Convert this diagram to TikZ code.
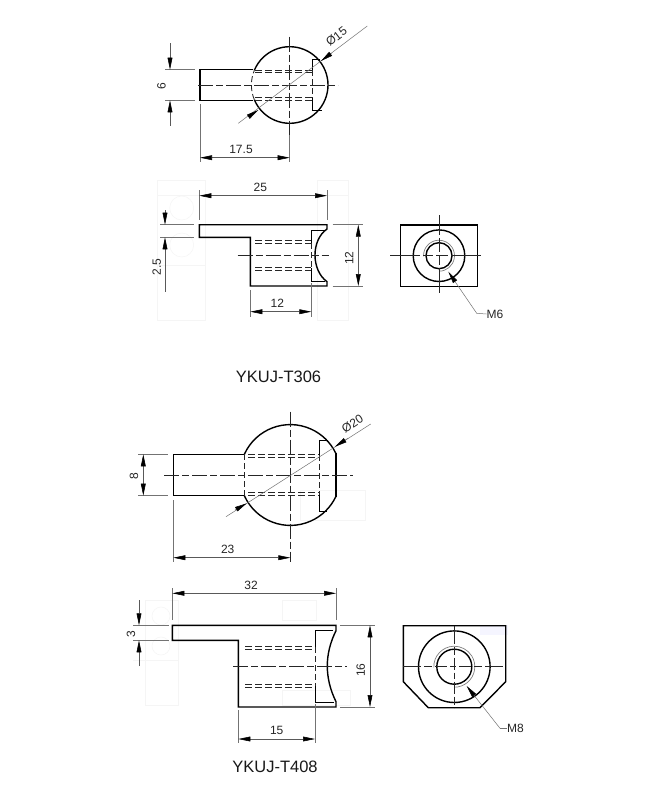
\documentclass[tikz,border=0pt]{standalone}
\usepackage{fontspec}
\setmainfont{Liberation Sans}
\usetikzlibrary{arrows.meta}
\tikzset{
  obj/.style={line width=1.4pt,black,line join=miter},
  thin obj/.style={line width=1pt,black},
  hole/.style={line width=0.85pt,black!85,dash pattern=on 6.5pt off 3.5pt},
  hidden/.style={line width=0.85pt,black!85,dash pattern=on 6pt off 3pt},
  axis/.style={line width=0.85pt,black!85,dash pattern=on 15pt off 3pt on 7pt off 3pt},
  ext/.style={line width=0.5pt,black!55},
  dimline/.style={line width=0.55pt,black!65},
  tip/.style={-{Triangle[length=12pt,width=4.8pt,fill=black,color=black]}},
  tips/.style={{Triangle[length=12pt,width=4.8pt,fill=black,color=black]}-{Triangle[length=12pt,width=4.8pt,fill=black,color=black]}},
  thread/.style={line width=0.7pt,black!50},
  ghost/.style={line width=0.5pt,black!4},
  dimtext/.style={font=\fontsize{12}{14}\selectfont,text=black!85,inner sep=0pt},
  title/.style={font=\fontsize{16.5}{19}\selectfont,text=black!90,inner sep=0pt},
}
\begin{document}
\begin{tikzpicture}[x=1pt,y=1pt,yscale=-1]
\useasboundingbox (0,0) rectangle (650,800);
\fill[white] (0,0) rectangle (650,800);

% faint ghosts
\draw[ghost] (157,180) rectangle (205,320) (157,265) -- (205,265) (157,195) -- (205,195);
\draw[ghost] (181.7,208) circle[radius=12] (181.7,245) circle[radius=12];
\draw[ghost] (317,180) rectangle (348,320) (317,195) -- (348,195);
\draw[ghost] (145,600) rectangle (178,705) (133,660) -- (178,660);
\draw[ghost] (161,616) circle[radius=9] (161,646) circle[radius=9];
\draw[ghost] (282,600) rectangle (316,620) (282,690) rectangle (350,705);
\draw[ghost] (300,490) rectangle (365,520);
\fill[blue!4] (480,625) rectangle (508,635);

% ===== YKUJ-T306 top view =====
\coordinate (c1) at (289.7,85);
\draw[obj] (c1) ++(-157.4:38.3) arc[start angle=-157.4,end angle=157.4,radius=38.3];
\draw[hidden] (c1) ++(157.4:38.3) arc[start angle=157.4,end angle=202.6,radius=38.3];
\draw[obj] (253,69.7) -- (200,69.7) -- (200,100.3) -- (253,100.3);
\draw[hole] (255,70) -- (312.3,70) (255,72.5) -- (312.3,72.5) (255,97.5) -- (312.3,97.5) (255,100) -- (312.3,100);
\draw[thin obj] (320,59.3) -- (312.3,59.3) -- (312.3,70) (312.3,98) -- (312.3,110.7) -- (321.7,110.7);
\draw[hidden] (312.3,70) -- (312.3,98);
\draw[axis] (198,85) -- (338,85);
\draw[axis] (289.7,36.7) -- (289.7,135);
\draw[ext] (238.3,123.3) -- (367.3,26);
\draw[tip,ext] (331.7,53) -- (321,61);
\draw[tip,ext] (248,117) -- (258.3,110);
\node[dimtext,rotate=37] (d15) at (336.5,36.5) {Ø15};
\draw[ext] (165,69.7) -- (195,69.7) (165,100.3) -- (195,100.3);
\draw[dimline,tip] (170,43.3) -- (170,69.7);
\draw[dimline,tip] (170,125.7) -- (170,100.3);
\node[dimtext,rotate=90] (d6) at (161.5,86) {6};
\draw[ext] (200,104) -- (200,161.7) (289.7,135) -- (289.7,161.7);
\draw[dimline,tips] (200,157.7) -- (289.7,157.7);
\node[dimtext] (d175) at (241,149.3) {17.5};

% ===== YKUJ-T306 front view =====
\draw[obj] (199.3,224.7) -- (327,224.7) -- (327,229)
  .. controls (311,240) and (311,270) .. (327,281.7) -- (327,286) -- (250.3,286) -- (250.3,237.3) -- (199.3,237.3) -- cycle;
\draw[thin obj] (325,230) -- (311.3,230) -- (311.3,243) (311.3,268) -- (311.3,281.7) -- (325,281.7);
\draw[hidden] (311.3,243) -- (311.3,268);
\draw[hole] (255,240) -- (311.3,240) (255,243.3) -- (311.3,243.3) (255,267.3) -- (311.3,267.3) (255,270.7) -- (311.3,270.7);
\draw[axis] (237.7,255) -- (329.3,255);
\draw[ext] (199.3,190) -- (199.3,220) (327,190) -- (327,220);
\draw[dimline,tips] (199.3,195.7) -- (327,195.7);
\node[dimtext] (d25) at (260.3,187.7) {25};
\draw[ext] (160,224.7) -- (194.3,224.7) (160,237.3) -- (194.3,237.3);
\draw[dimline,tip] (165,210) -- (165,224.7);
\draw[dimline,tip] (165,291.7) -- (165,237.3);
\node[dimtext,rotate=90] (d25b) at (156.7,266.7) {2.5};
\draw[ext] (332.7,224.7) -- (363.3,224.7) (332.7,286) -- (363.3,286);
\draw[dimline,tips] (358.3,224.7) -- (358.3,286);
\node[dimtext,rotate=90] (d12r) at (349.3,258.3) {12};
\draw[ext] (250.3,290) -- (250.3,316.7) (311.3,283) -- (311.3,316.7);
\draw[dimline,tips] (250.3,311.7) -- (311.3,311.7);
\node[dimtext] (d12b) at (277.3,303.7) {12};

% ===== YKUJ-T306 end view =====
\coordinate (e1) at (439,255.7);
\draw[obj] (400.7,225) rectangle (477.3,286.7);
\draw[obj] (e1) circle[radius=25.8];
\draw[obj] (e1) circle[radius=13];
\draw[thread] (e1) ++(178:15.5) arc[start angle=178,end angle=370,radius=15.5];
\draw[thread] (e1) ++(10:15.5) arc[start angle=10,end angle=90,radius=15.5];
\draw[line width=0.8pt,black!85,dash pattern=on 30pt off 3pt on 10pt off 3pt on 12pt off 3pt on 30pt] (390,255.7) -- (490,255.7);
\draw[line width=0.8pt,black!85,dash pattern=on 20pt off 3pt on 14pt off 3pt on 10pt off 3pt on 25pt] (439,215) -- (439,296.7);
\coordinate (l1a) at (476.7,313.3);
\node[dimtext,anchor=west] (m6) at (486.5,314) {M6};
\draw[ext,tip] (l1a) -- (448.3,271.7);
\draw[ext] (l1a) -- (m6.west);

\node[title] (t306) at (278.5,376.5) {YKUJ-T306};

% ===== YKUJ-T408 top view =====
\coordinate (c2) at (290.3,475);
\draw[obj] (244.3,454.3) -- (173.3,454.3) -- (173.3,495.7) -- (244.3,495.7);
\draw[obj] (c2) ++(-155.8:50.4) arc[start angle=-155.8,end angle=-25.4,radius=50.4];
\draw[obj] (c2) ++(155.8:50.4) arc[start angle=155.8,end angle=25.4,radius=50.4];
\draw[obj] (336,453.4) -- (336,496.6);
\draw[hidden] (244.3,454.3) -- (244.3,495.7);
\draw[hole] (248.3,454.3) -- (319,454.3) (248.3,457.3) -- (319,457.3) (248.3,492.5) -- (319,492.5) (248.3,495.7) -- (319,495.7);
\draw[thin obj] (328.3,440) -- (319,440) -- (319,455) (319,495) -- (319,511) -- (326.7,511);
\draw[hidden] (319,455) -- (319,495);
\draw[axis] (164.3,475) -- (353.3,475);
\draw[axis] (290.3,411.7) -- (290.3,562);
\draw[ext] (226,516.7) -- (370.7,424);
\draw[ext,tip] (348.3,438) -- (335,446.7);
\draw[ext,tip] (235,510) -- (246.7,503.3);
\node[dimtext,rotate=33] (d20) at (352.5,423.5) {Ø20};
\draw[ext] (138.3,454.3) -- (168.3,454.3) (138.3,495.7) -- (168.3,495.7);
\draw[dimline,tips] (143.3,454.3) -- (143.3,495.7);
\node[dimtext,rotate=90] (d8) at (134,476) {8};
\draw[ext] (173.3,500) -- (173.3,561.7);
\draw[dimline,tips] (173.3,557.7) -- (290.3,557.7);
\node[dimtext] (d23) at (227.7,549.3) {23};

% ===== YKUJ-T408 front view =====
\draw[obj] (172.3,625.3) -- (336,625.3) -- (336,630.7)
  .. controls (324.4,654) and (324.4,678) .. (336,701.7) -- (336,707) -- (238.3,707) -- (238.3,640.3) -- (172.3,640.3) -- cycle;
\draw[thin obj] (333,630.7) -- (315,630.7) -- (315,647) (315,686) -- (315,702.3) -- (334,702.3);
\draw[hidden] (315,647) -- (315,686);
\draw[hole] (245,646) -- (315,646) (245,649.3) -- (315,649.3) (245,684) -- (315,684) (245,687.3) -- (315,687.3);
\draw[axis] (233.3,666) -- (346.7,666);
\draw[ext] (172.3,588) -- (172.3,620) (336,588) -- (336,620);
\draw[dimline,tips] (172.3,593.3) -- (336,593.3);
\node[dimtext] (d32) at (251,585) {32};
\draw[ext] (133.3,625.3) -- (169,625.3) (133.3,640.3) -- (169,640.3);
\draw[dimline,tip] (139,600) -- (139,625.3);
\draw[dimline,tip] (139,666) -- (139,640.3);
\node[dimtext,rotate=90] (d3) at (131,634) {3};
\draw[ext] (340,625.3) -- (375,625.3) (340,707) -- (375,707);
\draw[dimline,tips] (370,625.3) -- (370,707);
\node[dimtext,rotate=90] (d16) at (360.7,670) {16};
\draw[ext] (238.3,710) -- (238.3,743.3) (315,704) -- (315,743.3);
\draw[dimline,tips] (238.3,739) -- (315,739);
\node[dimtext] (d15b) at (276.7,730) {15};

% ===== YKUJ-T408 end view =====
\coordinate (e2) at (454.3,666.7);
\draw[obj] (403.3,625.7) -- (505.7,625.7) -- (505.7,681.7) -- (480,707.7) -- (428.3,707.7) -- (403.3,681.7) -- cycle;
\draw[obj] (e2) circle[radius=35.8];
\draw[obj] (e2) circle[radius=17.5];
\draw[thread] (e2) ++(178:20.5) arc[start angle=178,end angle=370,radius=20.5];
\draw[thread] (e2) ++(10:20.5) arc[start angle=10,end angle=90,radius=20.5];
\draw[line width=0.85pt,black!85,dash pattern=on 18pt off 3pt on 8pt off 3pt on 12pt off 3pt on 6pt off 3pt on 12pt off 3pt on 8pt off 3pt on 18pt] (403.3,666.7) -- (505.7,666.7);
\draw[line width=0.85pt,black!85,dash pattern=on 18pt off 3pt on 8pt off 3pt on 12pt off 3pt on 6pt off 3pt on 12pt off 3pt on 8pt off 3pt on 12pt] (454.3,625.7) -- (454.3,707.7);
\coordinate (l2a) at (500,728.3);
\node[dimtext,anchor=west] (m8) at (507,728.3) {M8};
\draw[ext,tip] (l2a) -- (466.7,686);
\draw[ext] (l2a) -- (m8.west);

\node[title] (t408) at (275,766.5) {YKUJ-T408};
\end{tikzpicture}
\end{document}
